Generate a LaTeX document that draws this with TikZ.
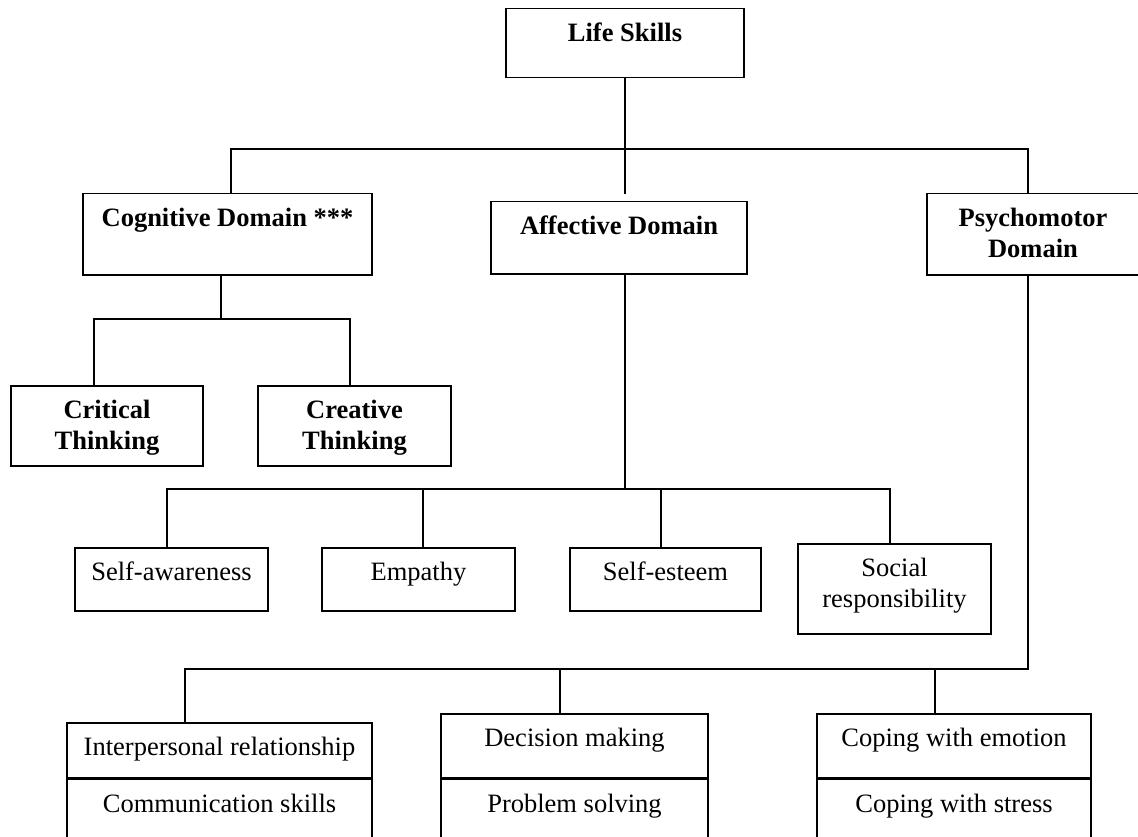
\documentclass[tikz,border=0pt]{standalone}
\usepackage{fontspec}
\setmainfont{Liberation Serif}
\usetikzlibrary{positioning}

\tikzset{
  box/.style={draw, line width=1.5pt, anchor=north, align=center,
    inner xsep=0pt, inner ysep=14pt, text height=19pt,
    font=\fontsize{26.5}{31}\selectfont},
  bbox/.style={box, font=\fontsize{26.5}{31}\selectfont\bfseries},
  twolines/.style={text height=50pt},
  link/.style={line width=1.3pt}
}

\begin{document}
\begin{tikzpicture}[x=1pt,y=-1pt]
        \useasboundingbox (0,0) rectangle (1138,837);

        % TOP
        \node[bbox, minimum width=238pt, text depth=22pt] (life) at (625,8) {Life Skills};

        % DOMAINS
        \node[bbox, minimum width=289pt, text depth=34pt] (cog) at (227.5,193) {Cognitive Domain ***};
        \node[bbox, minimum width=256pt, text depth=25pt] (aff) at (619,201) {Affective Domain};
        \node[bbox, twolines, minimum width=212pt, text depth=3pt] (psy) at (1033,193) {Psychomotor\\Domain};

        % COGNITIVE
        \node[bbox, twolines, minimum width=192pt, text depth=2pt] (crit) at (107,385) {Critical\\Thinking};
        \node[bbox, twolines, minimum width=193pt, text depth=2pt] (crea) at (354.5,385) {Creative\\Thinking};

        % AFFECTIVE
        \node[box, minimum width=193pt, text depth=16pt] (selfaw) at (171.5,547) {Self-awareness};
        \node[box, minimum width=193pt, text depth=16pt] (emp) at (418.5,547) {Empathy};
        \node[box, minimum width=191pt, text depth=16pt] (selfes) at (665.5,547) {Self-esteem};
        \node[box, twolines, minimum width=193pt, text depth=12pt] (social) at (894.5,543) {Social\\responsibility};

        % PSYCHOMOTOR
        \node[box, minimum width=305pt, text depth=8pt] (inter) at (219.5,722) {Interpersonal relationship};
        \node[box, minimum width=305pt, text depth=33pt, below=0pt of inter] (comm) {Communication skills};
        \node[box, minimum width=267pt, text depth=17pt] (dec) at (574.5,713) {Decision making};
        \node[box, minimum width=267pt, text depth=33pt, below=0pt of dec] (prob) {Problem solving};
        \node[box, minimum width=274pt, text depth=17pt] (emo) at (954,713) {Coping with emotion};
        \node[box, minimum width=274pt, text depth=33pt, below=0pt of emo] (stress) {Coping with stress};

        % BARS
        \coordinate (topL) at (231,149);
        \coordinate (topR) at (1028,149);
        \coordinate (cogL) at (94,319);
        \coordinate (cogM) at (221,319);
        \coordinate (cogR) at (350,319);
        \coordinate (affL) at (167,489);
        \coordinate (affB) at (423,489);
        \coordinate (affC) at (661,489);
        \coordinate (affR) at (890,489);
        \coordinate (psyL) at (185,669);
        \coordinate (psyM) at (560,669);
        \coordinate (psyR) at (935,669);

        % LINES
        \draw[link] (life.south) -- (life.south |- topL);
        \draw[link] (topL |- cog.north) -- (topL) -- (topR) -- (topR |- psy.north);
        \draw[link, shorten >=7pt] (life.south |- topL) -- (life.south |- aff.north);

        \draw[link] (cogM |- cog.south) -- (cogM);
        \draw[link] (cogL |- crit.north) -- (cogL) -- (cogR) -- (cogR |- crea.north);

        \draw[link] (life.south |- aff.south) -- (life.south |- affL);
        \draw[link] (affL |- selfaw.north) -- (affL) -- (affR) -- (affR |- social.north);
        \draw[link] (affB) -- (affB |- emp.north);
        \draw[link] (affC) -- (affC |- selfes.north);

        \draw[link] (topR |- psy.south) -- (topR |- psyL) -- (psyL) -- (psyL |- inter.north);
        \draw[link] (psyM) -- (psyM |- dec.north);
        \draw[link] (psyR) -- (psyR |- emo.north);
      \end{tikzpicture}
\end{document}
